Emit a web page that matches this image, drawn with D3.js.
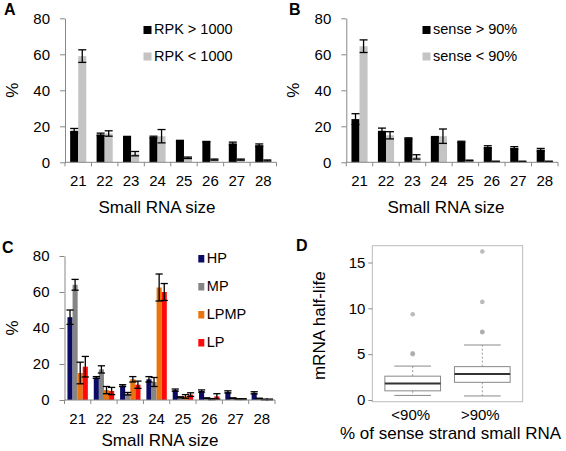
<!DOCTYPE html>
<html><head><meta charset="utf-8">
<script src="https://cdn.jsdelivr.net/npm/d3@7"></script>
<style>
body{margin:0;background:#fff;}
svg text{font-family:"Liberation Sans",Arial,Helvetica,sans-serif;fill:#000;}
</style></head>
<body>
<svg id="c" width="566" height="451"></svg>
<script>
// ---------- DATA ----------
const sizes = ["21","22","23","24","25","26","27","28"];
const yTicksBar = [0,20,40,60,80];

// Panel A
const aLabels = ["RPK > 1000","RPK < 1000"];
const aHigh    = [17.5,15.5,14.2,14,12,11.4,10.5,9.5];
const aHighErr = [1.3,0.7,0.2,0.5,0.2,0.2,0.7,0.7];
const aLow     = [59,16,4.8,14.5,2.5,1.5,1.5,1];
const aLowErr  = [3.5,1.5,1.2,3.7,0.4,0.3,0.3,0.3];

// Panel B
const bLabels = ["sense > 90%","sense < 90%"];
const bHigh    = [24,17.5,13.3,14,11.4,8.5,8,7];
const bHighErr = [3,1.5,0.3,0.3,0.3,0.7,0.7,0.7];
const bLow     = [64.5,15,3,14.5,1,0.5,0.5,0.5];
const bLowErr  = [3.5,2,1.2,4,0.2,0.1,0.1,0.1];

// Panel C
const cLabels = ["HP","MP","LPMP","LP"];
const cHP      = [46,12.5,8,11.5,5.5,5,4.5,4];
const cHPErr   = [4,0.5,0.5,1.5,0.6,0.6,0.6,0.6];
const cMP      = [64,17,3.5,10,1.5,1,1,0.8];
const cMPErr   = [3,2,0.7,2.5,0.3,0.2,0.2,0.2];
const cLPMP    = [15,5.5,11.5,62.5,2,0.5,0.5,0.3];
const cLPMPErr = [6,2,1.5,7.5,1,0.3,0.2,0.2];
const cLP      = [18.5,5,8.5,60,3,2,0.5,0.3];
const cLPErr   = [5.7,2,2,4.7,1,1.5,0.2,0.2];

// Panel D (boxplot stats)
const dGroups   = ["<90%",">90%"];
const dWhiskLo  = [0.5,0.44];
const dQ1       = [1.0,1.93];
const dMedian   = [1.8,2.84];
const dQ3       = [2.6,3.64];
const dWhiskHi  = [3.7,6.0];
const dOutLow   = [5.0,5.1,9.35];
const dOutHigh  = [7.4,7.45,10.7,16.2];
const dYTicks   = [0,5,10,15];

// ---------- DRAW ----------
const svg = d3.select("#c");
const FONT_TICK = 15, FONT_TITLE = 17, FONT_LEG = 14.5;

function barPanel(opts){
  const g = svg.append("g");
  const x = d3.scaleBand().domain(sizes).range(opts.xr).paddingInner(opts.pad).paddingOuter(opts.pad/2);
  const y = d3.scaleLinear().domain([0,80]).range(opts.yr);
  const xs = d3.scaleBand().domain(d3.range(opts.series.length)).range([0,x.bandwidth()]);
  // bars
  opts.series.forEach((s,si)=>{
    const sg = g.append("g");
    sg.selectAll("rect").data(s.vals).join("rect")
      .attr("x",(d,i)=>x(sizes[i])+xs(si))
      .attr("width",xs.bandwidth())
      .attr("y",d=>y(d))
      .attr("height",d=>y(0)-y(d))
      .attr("fill",s.color);
  });
  // error bars
  opts.series.forEach((s,si)=>{
    const eg = g.append("g").attr("stroke","#000").attr("stroke-width",1.3);
    s.vals.forEach((v,i)=>{
      const cx = x(sizes[i])+xs(si)+xs.bandwidth()/2;
      const hi = y(v+s.err[i]), lo = y(Math.max(0,v-s.err[i]));
      const hw = opts.cap;
      eg.append("line").attr("x1",cx).attr("x2",cx).attr("y1",hi).attr("y2",lo);
      eg.append("line").attr("x1",cx-hw).attr("x2",cx+hw).attr("y1",hi).attr("y2",hi);
      eg.append("line").attr("x1",cx-hw).attr("x2",cx+hw).attr("y1",lo).attr("y2",lo);
    });
  });
  // y axis
  const ya = g.append("g").attr("transform",`translate(${opts.xr[0]},0)`)
    .call(d3.axisLeft(y).tickValues(yTicksBar).tickSize(5).tickSizeOuter(0).tickPadding(10));
  ya.select(".domain").attr("stroke","#888");
  ya.selectAll(".tick line").attr("stroke","#888");
  ya.selectAll("text").attr("font-size",FONT_TICK).attr("font-family",null);
  // x axis: line with boundary ticks
  const xa = g.append("g").attr("transform",`translate(0,${y(0)})`)
    .call(d3.axisBottom(x).tickSize(0).tickPadding(13));
  xa.select(".domain").remove();
  xa.selectAll("text").attr("font-size",FONT_TICK).attr("font-family",null);
  g.append("line").attr("x1",opts.xr[0]).attr("x2",opts.xr[1]).attr("y1",y(0)).attr("y2",y(0)).attr("stroke","#888");
  d3.range(sizes.length+1).forEach(i=>{
    const bx = opts.xr[0]+i*x.step();
    g.append("line").attr("x1",bx).attr("x2",bx).attr("y1",y(0)).attr("y2",y(0)+4).attr("stroke","#888");
  });
  // titles
  g.append("text").attr("x",opts.xTitleX).attr("y",y(0)+opts.titleOff).attr("text-anchor","middle")
    .attr("font-size",FONT_TITLE).text("Small RNA size");
  g.append("text").attr("transform",`translate(${opts.xr[0]-47},${(y(0)+y(80))/2}) rotate(-90)`)
    .attr("text-anchor","middle").attr("font-size",FONT_TITLE).text("%");
  g.append("text").attr("x",opts.labX).attr("y",y(80)-3).attr("font-size",16).attr("font-weight","bold").text(opts.label);
  // legend
  opts.series.forEach((s,si)=>{
    const ly = opts.legY + si*opts.legStep;
    g.append("rect").attr("x",opts.legX).attr("y",ly-opts.sqH).attr("width",opts.sqW).attr("height",opts.sqH).attr("fill",s.color);
    g.append("text").attr("x",opts.legX+opts.sqW+2.5).attr("y",ly).attr("font-size",FONT_LEG).text(s.name);
  });
}

barPanel({xr:[65,276.5], yr:[162.3,18.3], pad:0.39, cap:4, titleOff:50.5,
  series:[{name:aLabels[0],vals:aHigh,err:aHighErr,color:"#000"},
          {name:aLabels[1],vals:aLow,err:aLowErr,color:"#c4c4c4"}],
  xTitleX:157, labX:4, label:"A", legX:143.5, legY:34, legStep:26.5, sqW:8, sqH:8});

barPanel({xr:[346.3,558], yr:[162.3,18.3], pad:0.39, cap:4, titleOff:50.5,
  series:[{name:bLabels[0],vals:bHigh,err:bHighErr,color:"#000"},
          {name:bLabels[1],vals:bLow,err:bLowErr,color:"#c4c4c4"}],
  xTitleX:446, labX:289, label:"B", legX:422.5, legY:34, legStep:26.5, sqW:8, sqH:8});

barPanel({xr:[64.5,275], yr:[400,256], pad:0.225, cap:3.6, titleOff:46,
  series:[{name:cLabels[0],vals:cHP,err:cHPErr,color:"#0b0b66"},
          {name:cLabels[1],vals:cMP,err:cMPErr,color:"#858585"},
          {name:cLabels[2],vals:cLPMP,err:cLPMPErr,color:"#e8730f"},
          {name:cLabels[3],vals:cLP,err:cLPErr,color:"#ff0a0a"}],
  xTitleX:160, labX:2, label:"C", legX:198.3, legY:262.5, legStep:28, sqW:6, sqH:7.5});

// ---------- Panel D boxplot ----------
(function(){
  const g = svg.append("g");
  const allVals = dWhiskLo.concat(dWhiskHi, dOutLow, dOutHigh);
  const ext = d3.extent(allVals);
  const padY = (ext[1]-ext[0])*0.04;
  const y = d3.scaleLinear().domain([0,15]).range([400,262.5]);
  const x = d3.scaleLinear().domain([1,2]).range([412.7,482.3]);
  const x0 = x(0.42), x1 = x(2.58);
  const yt = y(ext[1]+padY), yb = y(ext[0]-padY);
  const boxW = (x(2)-x(1))*0.8;
  const staple = boxW*0.33;
  // frame
  g.append("rect").attr("x",x0).attr("y",yt).attr("width",x1-x0).attr("height",yb-yt)
    .attr("fill","none").attr("stroke","#bbb").attr("stroke-width",1);
  // y axis ticks
  const ya = g.append("g").attr("transform",`translate(${x0},0)`)
    .call(d3.axisLeft(y).tickValues(dYTicks).tickSize(4).tickPadding(3));
  ya.select(".domain").remove();
  ya.selectAll(".tick line").attr("stroke","#888");
  ya.selectAll("text").attr("font-size",FONT_TICK).attr("font-family",null);
  dGroups.forEach((name,i)=>{
    const cx = x(i+1);
    const gg = g.append("g");
    gg.append("line").attr("x1",cx).attr("x2",cx).attr("y1",y(dQ3[i])).attr("y2",y(dWhiskHi[i]))
      .attr("stroke","#999").attr("stroke-dasharray","2,2");
    gg.append("line").attr("x1",cx).attr("x2",cx).attr("y1",y(dQ1[i])).attr("y2",y(dWhiskLo[i]))
      .attr("stroke","#999").attr("stroke-dasharray","2,2");
    [dWhiskHi[i],dWhiskLo[i]].forEach(v=>{
      gg.append("line").attr("x1",cx-staple).attr("x2",cx+staple).attr("y1",y(v)).attr("y2",y(v)).attr("stroke","#888");
    });
    gg.append("rect").attr("x",cx-boxW/2).attr("y",y(dQ3[i])).attr("width",boxW).attr("height",y(dQ1[i])-y(dQ3[i]))
      .attr("fill","#fff").attr("stroke","#888");
    gg.append("line").attr("x1",cx-boxW/2).attr("x2",cx+boxW/2).attr("y1",y(dMedian[i])).attr("y2",y(dMedian[i]))
      .attr("stroke","#333").attr("stroke-width",2);
    gg.append("text").attr("x",cx-2).attr("y",420).attr("text-anchor","middle").attr("font-size",FONT_TICK).text(name);
  });
  [dOutLow,dOutHigh].forEach((arr,i)=>{
    g.selectAll(null).data(arr).join("circle").attr("cx",x(i+1)).attr("cy",d=>y(d)).attr("r",2.3)
      .attr("fill","#aaa").attr("fill-opacity",0.8);
  });
  g.append("text").attr("x",450.5).attr("y",438.5).attr("text-anchor","middle").attr("font-size",FONT_TITLE)
    .text("% of sense strand small RNA");
  g.append("text").attr("transform",`translate(${x0-47},${(yt+yb)/2+2}) rotate(-90)`)
    .attr("text-anchor","middle").attr("font-size",FONT_TITLE).text("mRNA half-life");
  g.append("text").attr("x",296).attr("y",251).attr("font-size",16).attr("font-weight","bold").text("D");
})();
</script>
</body></html>
